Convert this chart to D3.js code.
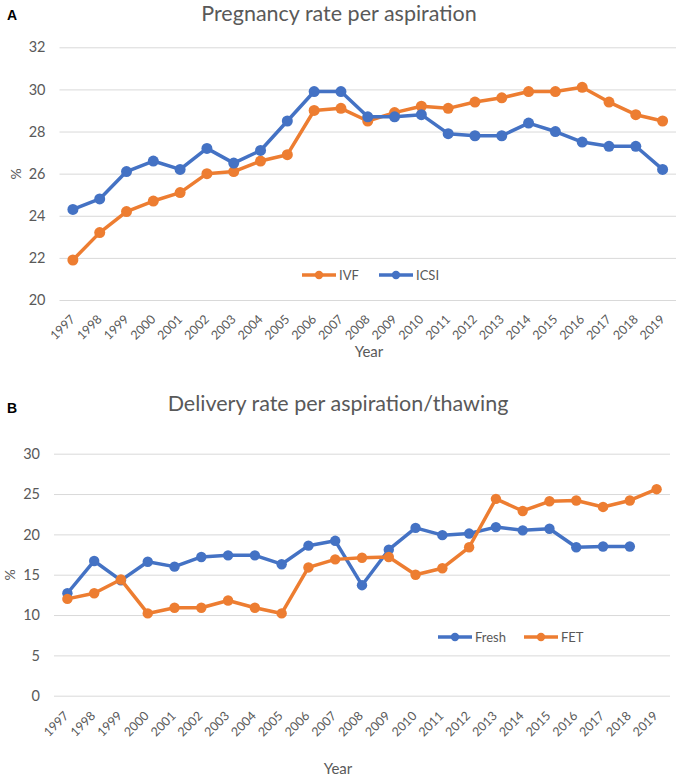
<!DOCTYPE html>
<html>
<head>
<meta charset="utf-8">
<script src="https://cdn.jsdelivr.net/npm/d3@7"></script>
<style>
  html, body { margin: 0; padding: 0; background: #ffffff; }
  svg { display: block; }
  text { font-family: Lato, "Open Sans", sans-serif; }
</style>
</head>
<body>
<div id="chart"></div>
<script>
// ---- Data ----
const years = ["1997","1998","1999","2000","2001","2002","2003","2004","2005","2006","2007","2008","2009","2010","2011","2012","2013","2014","2015","2016","2017","2018","2019"];

// Panel A: pregnancy rate per aspiration (%)
const ivf  = [21.9, 23.2, 24.2, 24.7, 25.1, 26.0, 26.1, 26.6, 26.9, 29.0, 29.1, 28.5, 28.9, 29.2, 29.1, 29.4, 29.6, 29.9, 29.9, 30.1, 29.4, 28.8, 28.5];
const icsi = [24.3, 24.8, 26.1, 26.6, 26.2, 27.2, 26.5, 27.1, 28.5, 29.9, 29.9, 28.7, 28.7, 28.8, 27.9, 27.8, 27.8, 28.4, 28.0, 27.5, 27.3, 27.3, 26.2];

// Panel B: delivery rate per aspiration/thawing (%)
const fresh = [12.7, 16.7, 14.3, 16.6, 16.0, 17.2, 17.4, 17.4, 16.3, 18.6, 19.2, 13.7, 18.1, 20.8, 19.9, 20.1, 20.9, 20.5, 20.7, 18.4, 18.5, 18.5];
const fet   = [12.0, 12.7, 14.4, 10.2, 10.9, 10.9, 11.8, 10.9, 10.2, 15.9, 16.9, 17.1, 17.2, 15.0, 15.8, 18.4, 24.4, 22.9, 24.1, 24.2, 23.4, 24.2, 25.6];

const ticksA = [20, 22, 24, 26, 28, 30, 32];
const ticksB = [0, 5, 10, 15, 20, 25, 30];

const titleA = "Pregnancy rate per aspiration";
const titleB = "Delivery rate per aspiration/thawing";
const seriesNamesA = ["IVF", "ICSI"];
const seriesNamesB = ["Fresh", "FET"];

// ---- Styles ----
const BLUE = "#4472C4";
const ORANGE = "#ED7D31";
const GREY_TEXT = "#595959";
const GRID = "#d9d9d9";

const W = 680, H = 779;
const svg = d3.select("#chart").append("svg").attr("width", W).attr("height", H);

function drawPanel(opt) {
  const g = svg.append("g");
  const x = d3.scaleBand().domain(years).range([opt.left, opt.right]);
  const y = d3.scaleLinear().domain([opt.ticks[0], opt.ticks[opt.ticks.length - 1]]).range([opt.bottom, opt.top]);
  const cx = d => x(d) + x.bandwidth() / 2;

  // y axis with gridlines
  const ya = g.append("g")
    .attr("transform", `translate(${opt.left},0)`)
    .call(d3.axisLeft(y).tickValues(opt.ticks).tickSize(-(opt.right - opt.left)).tickPadding(14));
  ya.select(".domain").remove();
  ya.selectAll(".tick line").attr("stroke", GRID).attr("stroke-width", 1);
  ya.selectAll(".tick text").attr("fill", GREY_TEXT).style("font-size", "14.5px").style("font-family", "Lato, sans-serif");

  // x axis
  const xa = g.append("g")
    .attr("transform", `translate(0,${opt.bottom})`)
    .call(d3.axisBottom(x).tickSize(0));
  xa.select(".domain").remove();
  xa.selectAll(".tick text")
    .attr("x", 0).attr("y", 0).attr("dy", 0)
    .attr("transform", `translate(${opt.xLabelDx},${opt.xLabelOffset}) rotate(-45)`)
    .attr("text-anchor", "end")
    .attr("fill", GREY_TEXT)
    .style("font-size", "12.5px").style("font-family", "Lato, sans-serif");

  // series
  opt.series.forEach(s => {
    const pts = s.values.map((v, i) => ({ year: years[i], v }));
    const line = d3.line().x(d => cx(d.year)).y(d => y(d.v));
    g.append("path").datum(pts)
      .attr("fill", "none").attr("stroke", s.color).attr("stroke-width", 3.5)
      .attr("stroke-linejoin", "round").attr("d", line);
    g.selectAll(null).data(pts).enter().append("circle")
      .attr("cx", d => cx(d.year)).attr("cy", d => y(d.v))
      .attr("r", opt.markerR).attr("fill", s.color);
  });

  // legend
  opt.series.forEach(s => {
    const lg = g.append("g").attr("transform", `translate(${s.legendX},${opt.legendY})`);
    lg.append("line").attr("x1", 0).attr("x2", 34).attr("y1", 0).attr("y2", 0)
      .attr("stroke", s.color).attr("stroke-width", 3.5);
    lg.append("circle").attr("cx", 17).attr("cy", 0).attr("r", 4.2).attr("fill", s.color);
    lg.append("text").attr("x", 37).attr("y", 0).attr("dy", "0.35em")
      .attr("fill", GREY_TEXT).style("font-size", opt.legendFont).text(s.name);
  });

  // title
  g.append("text").attr("x", opt.titleX).attr("y", opt.titleY)
    .attr("text-anchor", "middle").attr("fill", GREY_TEXT)
    .style("font-size", opt.titleFont).text(opt.title);

  // panel letter
  g.append("text").attr("x", opt.letterX).attr("y", opt.letterY)
    .attr("fill", "#000").style("font-weight", "bold")
    .style("font-family", "'Liberation Sans', Arial, sans-serif")
    .style("font-size", "14px").text(opt.letter);

  // y label
  g.append("text")
    .attr("transform", `translate(${opt.yLabelX},${opt.yLabelY}) rotate(-90)`)
    .attr("text-anchor", "middle").attr("dy", "0.35em")
    .attr("fill", GREY_TEXT).style("font-size", "14px").text("%");

  // x label
  g.append("text").attr("x", opt.xTitleX).attr("y", opt.xTitleY)
    .attr("text-anchor", "middle").attr("fill", GREY_TEXT)
    .style("font-size", "15px").text("Year");
}

drawPanel({
  left: 59.5, right: 676, top: 47.3, bottom: 300,
  ticks: ticksA, markerR: 5.5, xLabelOffset: 20, xLabelDx: 3,
  series: [
    { name: seriesNamesA[0], values: ivf, color: ORANGE, legendX: 302 },
    { name: seriesNamesA[1], values: icsi, color: BLUE, legendX: 379 }
  ],
  legendY: 275, legendFont: "13px",
  title: titleA, titleX: 339, titleY: 21, titleFont: "21.5px",
  letter: "A", letterX: 7, letterY: 19.5,
  yLabelX: 16, yLabelY: 174,
  xTitleX: 369, xTitleY: 357
});

drawPanel({
  left: 54, right: 670, top: 453.7, bottom: 695.7,
  ticks: ticksB, markerR: 5.2, xLabelOffset: 21, xLabelDx: 2,
  series: [
    { name: seriesNamesB[0], values: fresh, color: BLUE, legendX: 438 },
    { name: seriesNamesB[1], values: fet, color: ORANGE, legendX: 524 }
  ],
  legendY: 637, legendFont: "13px",
  title: titleB, titleX: 338, titleY: 411, titleFont: "21.5px",
  letter: "B", letterX: 7, letterY: 413,
  yLabelX: 10, yLabelY: 575,
  xTitleX: 338, xTitleY: 774
});
</script>
</body>
</html>
